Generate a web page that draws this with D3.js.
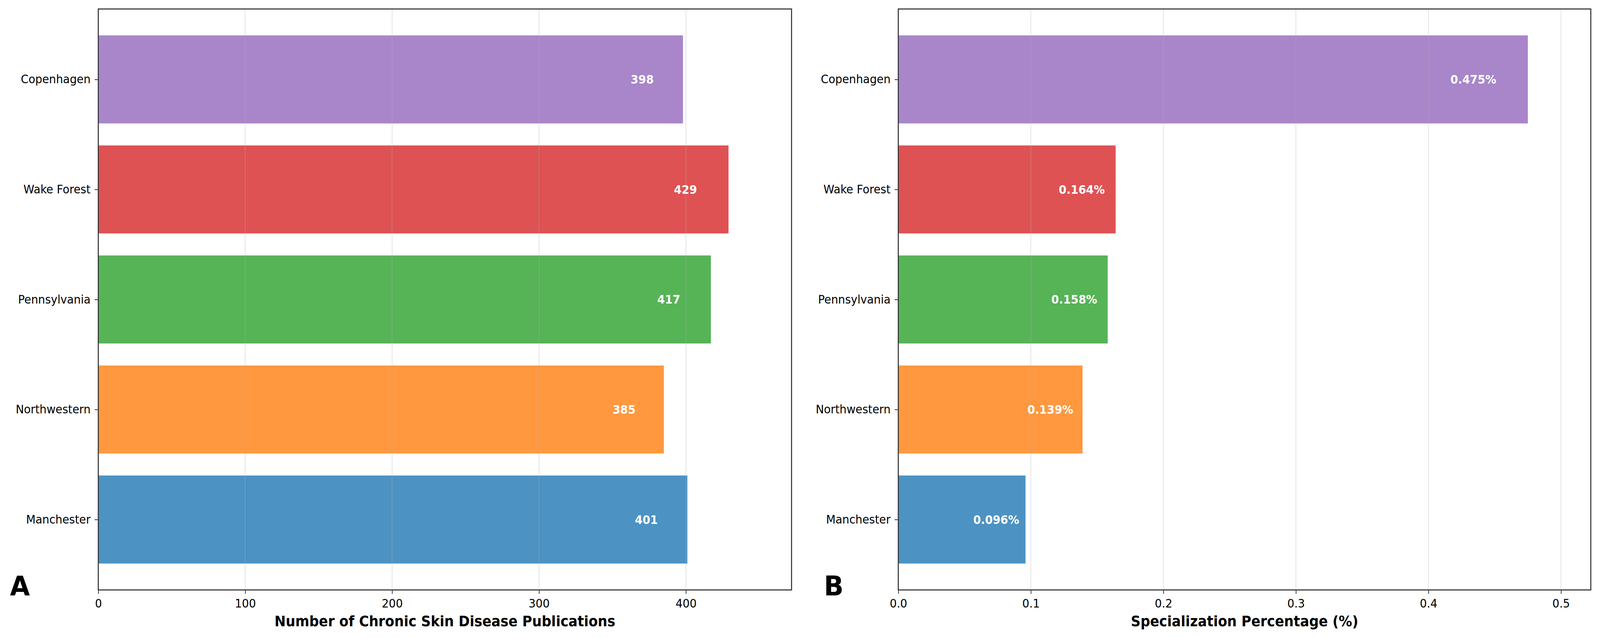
<!DOCTYPE html>
<html lang="en">
<head>
    <meta charset="UTF-8">
    <title>Chronic skin disease publications</title>
    <style>
        html, body {
            margin: 0;
            padding: 0;
            overflow: hidden;
            background: #fff;
        }

        svg {
            display: block;
            width: 100vw;
            height: 100vh;
            font-family: 'DejaVu Sans', sans-serif;
        }
    </style>
</head>
<body>
<script src="https://cdnjs.cloudflare.com/ajax/libs/d3/7.8.5/d3.min.js"></script>
<script>
    // data, bottom bar first (same order as matplotlib barh)
    const INSTITUTIONS = ['Manchester', 'Northwestern', 'Pennsylvania', 'Wake Forest', 'Copenhagen'];
    const PUBLICATIONS = [401, 385, 417, 429, 398];
    const SPECIALIZATION = [0.096, 0.139, 0.158, 0.164, 0.475];
    const BAR_COLORS = ['#4c92c3', '#ff983e', '#56b356', '#de5253', '#a985ca'];
    const PUB_TICKS = [0, 100, 200, 300, 400];
    const SPEC_TICKS = [0.0, 0.1, 0.2, 0.3, 0.4, 0.5];

    const width = 4346;
    const height = 1633;

    const PLOT = {
        top: 23,
        bottom: 1510
    };

    const FONT = {
        tick: 30,
        value: 30,
        label: 36.5,
        panel: 70
    };

    const COLORS = {
        spine: '#333',
        grid: '#b0b0b0',
        text: '#000',
        value: '#fff'
    };

    // drawn in picture pixels, scaled to whatever the window is
    const svg = d3.select('body')
        .append('svg')
        .attr('viewBox', `0 0 ${width} ${height}`)
        .attr('preserveAspectRatio', 'none');

    const SCALE_Y = d3.scaleLinear()
        .domain([-0.64, INSTITUTIONS.length - 1 + 0.64])
        .range([PLOT.bottom, PLOT.top]);

    const BAR_HEIGHT = Math.abs(SCALE_Y(0.8) - SCALE_Y(0));

    function drawPanel(cfg) {
        const x = d3.scaleLinear()
            .domain([0, d3.max(cfg.values) * 1.1])
            .range([cfg.left, cfg.right]);

        const g = svg.append('g').classed('panel', true);

        // bars
        g.append('g')
            .selectAll('rect')
            .data(cfg.values)
            .enter()
            .append('rect')
            .attr('x', x(0))
            .attr('y', (d, i) => SCALE_Y(i) - BAR_HEIGHT / 2)
            .attr('width', d => x(d) - x(0))
            .attr('height', BAR_HEIGHT)
            .attr('fill', (d, i) => BAR_COLORS[i]);

        // vertical grid, above the bars like matplotlib
        g.append('g')
            .selectAll('line')
            .data(cfg.ticks)
            .enter()
            .append('line')
            .attr('x1', d => x(d))
            .attr('x2', d => x(d))
            .attr('y1', PLOT.top)
            .attr('y2', PLOT.bottom)
            .attr('stroke', COLORS.grid)
            .attr('stroke-opacity', 0.3)
            .attr('stroke-width', 2.5);

        // value labels inside the bars
        g.append('g')
            .selectAll('text')
            .data(cfg.values)
            .enter()
            .append('text')
            .attr('x', d => x(d * 0.95))
            .attr('y', (d, i) => SCALE_Y(i))
            .attr('dy', '0.36em')
            .attr('text-anchor', 'end')
            .attr('fill', COLORS.value)
            .style('font-size', FONT.value + 'px')
            .style('font-weight', 'bold')
            .text(cfg.format);

        // x axis
        const xAxis = g.append('g')
            .attr('transform', `translate(0, ${PLOT.bottom})`)
            .call(d3.axisBottom(x)
                .tickValues(cfg.ticks)
                .tickFormat(cfg.tickFormat)
                .tickSize(10)
                .tickPadding(14));
        xAxis.select('.domain').remove();
        xAxis.selectAll('line').attr('stroke', COLORS.spine).attr('stroke-width', 2);
        xAxis.selectAll('text')
            .attr('fill', COLORS.text)
            .style('font-size', FONT.tick + 'px')
            .style('font-family', 'DejaVu Sans');

        // y axis
        const yAxis = g.append('g')
            .attr('transform', `translate(${cfg.left}, 0)`)
            .call(d3.axisLeft(SCALE_Y)
                .tickValues(d3.range(INSTITUTIONS.length))
                .tickFormat(i => INSTITUTIONS[i])
                .tickSize(10)
                .tickPadding(11));
        yAxis.select('.domain').remove();
        yAxis.selectAll('line').attr('stroke', COLORS.spine).attr('stroke-width', 2);
        yAxis.selectAll('text')
            .attr('fill', COLORS.text)
            .style('font-size', FONT.tick + 'px')
            .style('font-family', 'DejaVu Sans');

        // frame
        g.append('rect')
            .attr('x', cfg.left)
            .attr('y', PLOT.top)
            .attr('width', cfg.right - cfg.left)
            .attr('height', PLOT.bottom - PLOT.top)
            .attr('fill', 'none')
            .attr('stroke', COLORS.spine)
            .attr('stroke-width', 2.8);

        // axis title
        g.append('text')
            .attr('x', (cfg.left + cfg.right) / 2)
            .attr('y', 1603)
            .attr('text-anchor', 'middle')
            .attr('fill', COLORS.text)
            .style('font-size', FONT.label + 'px')
            .style('font-weight', 'bold')
            .text(cfg.title);

        // panel letter
        g.append('text')
            .attr('x', cfg.letterX)
            .attr('y', 1524)
            .attr('fill', COLORS.text)
            .style('font-size', FONT.panel + 'px')
            .style('font-weight', 'bold')
            .text(cfg.letter);
    }

    drawPanel({
        values: PUBLICATIONS,
        ticks: PUB_TICKS,
        tickFormat: d3.format('d'),
        format: d => d,
        left: 267,
        right: 2150,
        title: 'Number of Chronic Skin Disease Publications',
        letter: 'A',
        letterX: 27
    });

    drawPanel({
        values: SPECIALIZATION,
        ticks: SPEC_TICKS,
        tickFormat: d3.format('.1f'),
        format: d => d.toFixed(3) + '%',
        left: 2440,
        right: 4321,
        title: 'Specialization Percentage (%)',
        letter: 'B',
        letterX: 2238
    });
</script>
</body>
</html>
